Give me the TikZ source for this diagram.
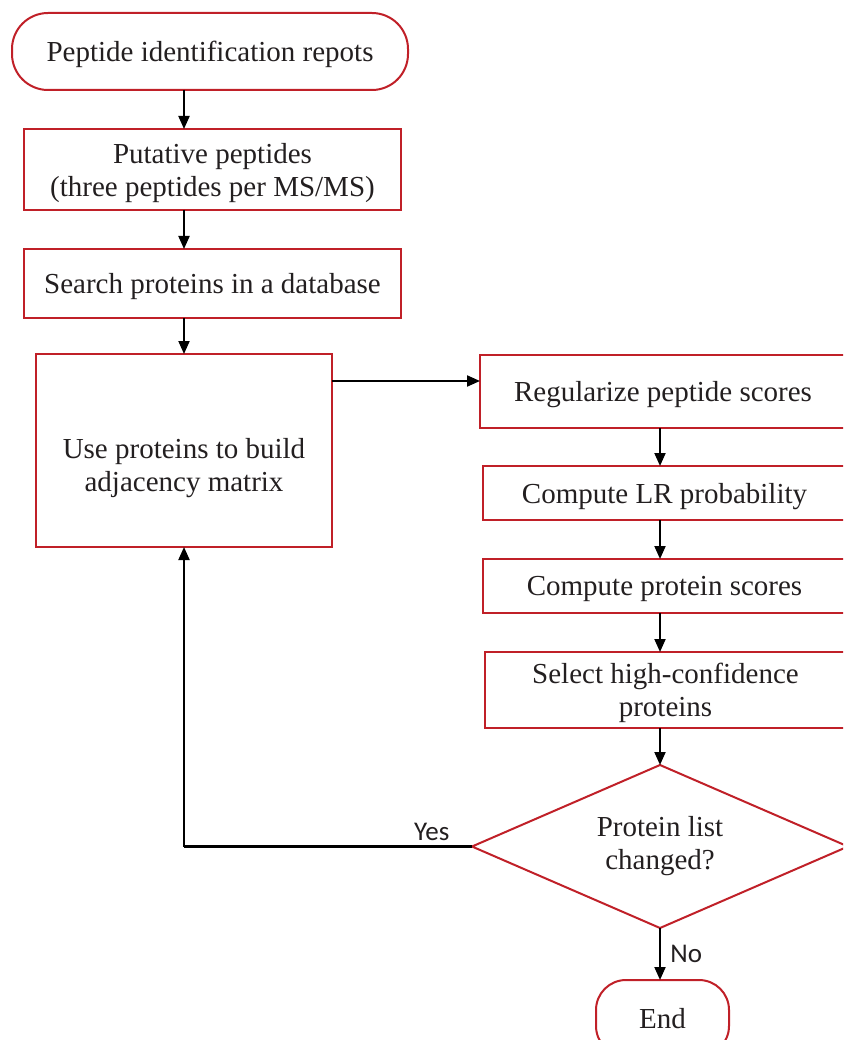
\documentclass[tikz,border=0pt]{standalone}
\usepackage{fontspec}
\setmainfont{Liberation Serif}
\newfontfamily\labelfont{Carlito}
\usepackage{tikz}
\usetikzlibrary{shapes.geometric, arrows.meta, positioning}

\definecolor{boxred}{RGB}{192,32,40}
\definecolor{inkgray}{RGB}{35,31,32}

\begin{document}
\begin{tikzpicture}[
  x=1pt, y=-1pt,
  font=\fontsize{29}{33}\selectfont, text=inkgray,
  term_box/.style={rectangle, draw=boxred, line width=2pt, rounded corners=36pt, align=center, inner sep=0pt, outer sep=0pt, text depth=0pt},
  proc_box/.style={rectangle, draw=boxred, line width=2pt, align=center, inner sep=0pt, outer sep=0pt, text depth=0pt},
  test_box/.style={diamond, aspect=2.3, draw=boxred, line width=2pt, align=center, inner sep=0pt, outer sep=0pt},
  edge_label/.style={font=\labelfont\fontsize{27}{30}\selectfont, text=inkgray},
  arrow/.style={-{Triangle[length=13pt,width=11pt]}, line width=2pt}
]
\clip (0,0) rectangle (843,1040);

% Left column
\node[term_box, minimum width=396pt, minimum height=77pt] (report) at (210,51.5) {Peptide identification repots};
\node[proc_box, minimum width=377pt, minimum height=81pt] (putative) at (212.5,169.5) {Putative peptides\\(three peptides per MS/MS)};
\node[proc_box, minimum width=377pt, minimum height=69pt] (search) at (212.5,283.5) {Search proteins in a database};
\node[proc_box, minimum width=296pt, minimum height=193pt] (matrix) at (184,450.5) {\mbox{}\\[15pt]Use proteins to build\\adjacency matrix};

% Right column
\node[proc_box, minimum width=366pt, minimum height=73pt] (regular) at (663,391.5) {Regularize peptide scores};
\node[proc_box, minimum width=363pt, minimum height=54pt] (lrprob) at (664.5,493) {Compute LR probability};
\node[proc_box, minimum width=363pt, minimum height=54pt] (pscore) at (664.5,586) {Compute protein scores};
\node[proc_box, minimum width=361pt, minimum height=76pt] (select) at (665.5,690) {Select high-confidence\\proteins};

% Decision and end
\node[test_box, minimum width=376pt, minimum height=163pt] (changed) at (660,846.5) {Protein list\\changed?};
\node[term_box, rounded corners=30pt, minimum width=133pt, minimum height=76pt] (finish) at (662.5,1018) {End};

% Arrows
\draw[arrow] (report.south -| matrix) -- (putative.north -| matrix);
\draw[arrow] (putative.south -| matrix) -- (search.north -| matrix);
\draw[arrow] (search.south -| matrix) -- (matrix.north);
\draw[arrow] ([yshift=-27pt]matrix.north east) -- ([yshift=-27pt]matrix.north east -| regular.west);
\draw[arrow] (regular.south -| changed) -- (lrprob.north -| changed);
\draw[arrow] (lrprob.south -| changed) -- (pscore.north -| changed);
\draw[arrow] (pscore.south -| changed) -- (select.north -| changed);
\draw[arrow] (select.south -| changed) -- (changed.north);
\draw[arrow] (changed.south) -- (finish.north -| changed) node[midway, right=6pt, edge_label] {No};

% Loop back
\coordinate (turn) at (changed.west -| matrix);
\draw[line width=3pt] (changed.west) -- (turn) node[pos=0.14, above=1pt, edge_label] {Yes};
\draw[arrow] (turn) -- (matrix.south);

\end{tikzpicture}
\end{document}
